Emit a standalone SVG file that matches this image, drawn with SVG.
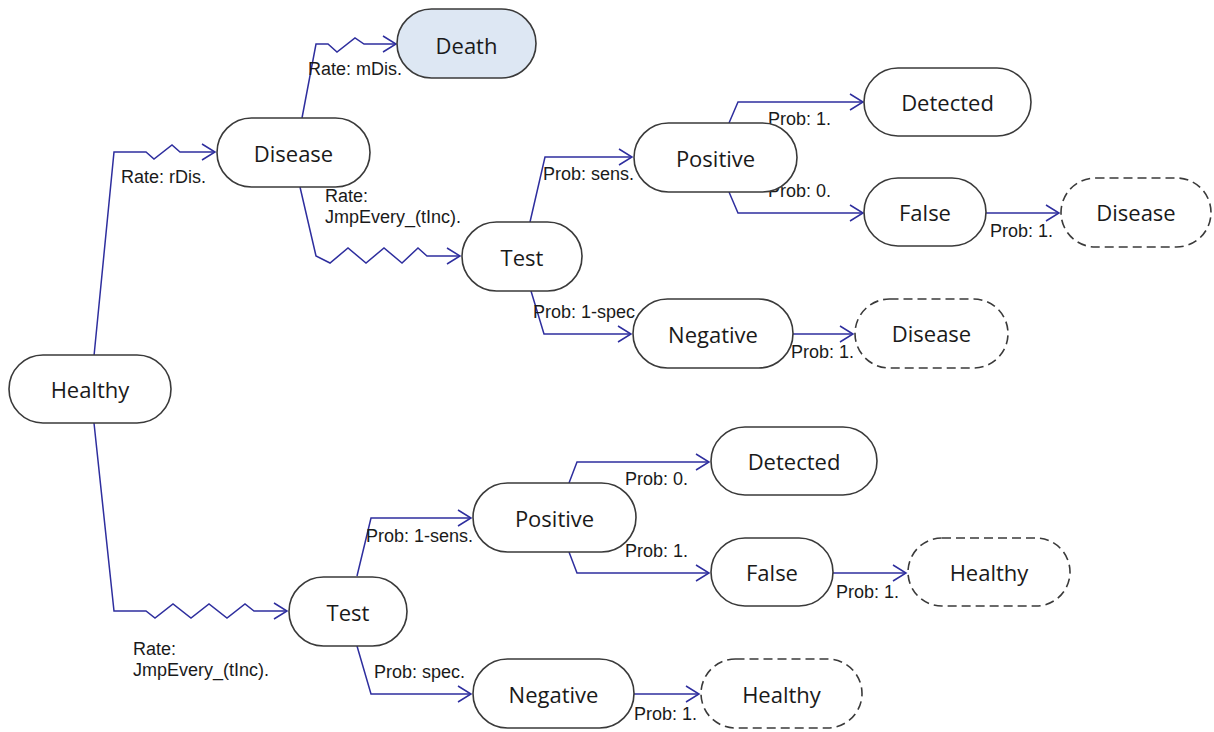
<svg xmlns="http://www.w3.org/2000/svg" width="1214" height="732" viewBox="0 0 1214 732">
  <style>
    .node { fill: #ffffff; stroke: #3a3a3a; stroke-width: 1.6; }
    .clone { fill: #ffffff; stroke: #3a3a3a; stroke-width: 1.6; stroke-dasharray: 9 5; }
    .absorb { fill: #dde7f3; stroke: #3a3a3a; stroke-width: 1.6; }
    .nlabel { font-family: "Open Sans", "Noto Sans", sans-serif; font-size: 22px; fill: #1a1a1a; text-anchor: middle; }
    .edge { fill: none; stroke: #2e2e9e; stroke-width: 1.5; stroke-linejoin: miter; marker-end: url(#arr); }
    .elabel { font-family: "Liberation Sans", Arial, sans-serif; font-size: 18px; fill: #1a1a1a; }
  </style>
  <defs>
    <marker id="arr" markerUnits="userSpaceOnUse" viewBox="-15 -10 17 20" markerWidth="17" markerHeight="20" refX="0" refY="0" orient="auto">
      <path d="M-13,-8 L0,0 L-13,8" fill="none" stroke="#2e2e9e" stroke-width="1.5"/>
    </marker>
  </defs>

  <!-- connectors -->
  <g id="connectors">
    <!-- Healthy -> Disease -->
    <path class="edge" d="M94,356 L114,152 L146,152 L154,159 L172,145 L180,152 L215,152"/>
    <text class="elabel" x="121" y="183">Rate: rDis.</text>
    <!-- Disease -> Death -->
    <path class="edge" d="M302,118 L316,44 L328,44 L337,52 L355,38 L364,44 L396,44"/>
    <text class="elabel" x="308" y="75">Rate: mDis.</text>
    <!-- Disease -> Test -->
    <path class="edge" d="M300,187 L316,256 L330,263 L348,248 L366,263 L384,248 L402,263 L418,248 L427,256 L460,256"/>
    <text class="elabel" x="325" y="202">Rate:</text>
    <text class="elabel" x="325" y="223">JmpEvery_(tInc).</text>
    <!-- Test -> Positive -->
    <path class="edge" d="M530,222 L545,157 L632,157"/>
    <text class="elabel" x="543" y="180">Prob: sens.</text>
    <!-- Test -> Negative -->
    <path class="edge" d="M531,291 L544,334 L631,334"/>
    <text class="elabel" x="533" y="318">Prob: 1-spec</text>
    <!-- Positive -> Detected -->
    <path class="edge" d="M729,123 L738,102 L863,102"/>
    <text class="elabel" x="768" y="125">Prob: 1.</text>
    <!-- Positive -> False -->
    <path class="edge" d="M729,192 L738,213 L863,213"/>
    <text class="elabel" x="768" y="197">Prob: 0.</text>
    <!-- False -> Disease -->
    <path class="edge" d="M986,213 L1059,213"/>
    <text class="elabel" x="990" y="237">Prob: 1.</text>
    <!-- Negative -> Disease -->
    <path class="edge" d="M793,334 L853,334"/>
    <text class="elabel" x="791" y="358">Prob: 1.</text>

    <!-- Healthy -> Test -->
    <path class="edge" d="M94,423 L114,611 L146,611 L155,618 L173,604 L191,618 L209,604 L227,618 L245,604 L254,611 L287,611"/>
    <text class="elabel" x="133" y="655">Rate:</text>
    <text class="elabel" x="133" y="676">JmpEvery_(tInc).</text>
    <!-- Test -> Positive -->
    <path class="edge" d="M357,576 L371,518 L471,518"/>
    <text class="elabel" x="366" y="542">Prob: 1-sens.</text>
    <!-- Test -> Negative -->
    <path class="edge" d="M357,646 L371,694 L471,694"/>
    <text class="elabel" x="374" y="678">Prob: spec.</text>
    <!-- Positive -> Detected -->
    <path class="edge" d="M569,483 L577,462 L709,462"/>
    <text class="elabel" x="625" y="485">Prob: 0.</text>
    <!-- Positive -> False -->
    <path class="edge" d="M569,552 L577,573 L709,573"/>
    <text class="elabel" x="625" y="557">Prob: 1.</text>
    <!-- False -> Healthy -->
    <path class="edge" d="M833,573 L906,573"/>
    <text class="elabel" x="836" y="598">Prob: 1.</text>
    <!-- Negative -> Healthy -->
    <path class="edge" d="M634,694 L699,694"/>
    <text class="elabel" x="634" y="720">Prob: 1.</text>
  </g>

  <!-- upper branch -->
  <g id="death"><rect class="absorb" x="397" y="9" width="139" height="69" rx="34.5"/><text class="nlabel" x="466.5" y="53.5">Death</text></g>
  <g id="disease"><rect class="node" x="217" y="118" width="153" height="69" rx="34.5"/><text class="nlabel" x="293.5" y="162">Disease</text></g>
  <g id="test1"><rect class="node" x="462" y="222" width="120" height="69" rx="34.5"/><text class="nlabel" x="522" y="266">Test</text></g>
  <g id="positive1"><rect class="node" x="634" y="123" width="163" height="69" rx="34.5"/><text class="nlabel" x="715.5" y="167">Positive</text></g>
  <g id="detected1"><rect class="node" x="864" y="68" width="167" height="68" rx="34"/><text class="nlabel" x="947.5" y="111">Detected</text></g>
  <g id="false1"><rect class="node" x="864" y="178" width="122" height="68" rx="34"/><text class="nlabel" x="925" y="221">False</text></g>
  <g id="disease_clone1"><rect class="clone" x="1061" y="178" width="150" height="69" rx="34.5"/><text class="nlabel" x="1136" y="221">Disease</text></g>
  <g id="negative1"><rect class="node" x="633" y="299" width="160" height="69" rx="34.5"/><text class="nlabel" x="713" y="343">Negative</text></g>
  <g id="disease_clone2"><rect class="clone" x="855" y="299" width="153" height="69" rx="34.5"/><text class="nlabel" x="931.5" y="342">Disease</text></g>

  <!-- root -->
  <g id="healthy"><rect class="node" x="9" y="355" width="162" height="68" rx="34"/><text class="nlabel" x="90" y="398">Healthy</text></g>

  <!-- lower branch -->
  <g id="test2"><rect class="node" x="289" y="577" width="118" height="69" rx="34.5"/><text class="nlabel" x="348" y="621">Test</text></g>
  <g id="positive2"><rect class="node" x="473" y="483" width="163" height="69" rx="34.5"/><text class="nlabel" x="554.5" y="527">Positive</text></g>
  <g id="detected2"><rect class="node" x="711" y="427" width="166" height="68" rx="34"/><text class="nlabel" x="794" y="470">Detected</text></g>
  <g id="false2"><rect class="node" x="711" y="538" width="122" height="68" rx="34"/><text class="nlabel" x="772" y="581">False</text></g>
  <g id="healthy_clone1"><rect class="clone" x="908" y="538" width="162" height="68" rx="34"/><text class="nlabel" x="989" y="581">Healthy</text></g>
  <g id="negative2"><rect class="node" x="473" y="659" width="161" height="69" rx="34.5"/><text class="nlabel" x="553.5" y="703">Negative</text></g>
  <g id="healthy_clone2"><rect class="clone" x="701" y="659" width="161" height="69" rx="34.5"/><text class="nlabel" x="781.5" y="703">Healthy</text></g>
</svg>
